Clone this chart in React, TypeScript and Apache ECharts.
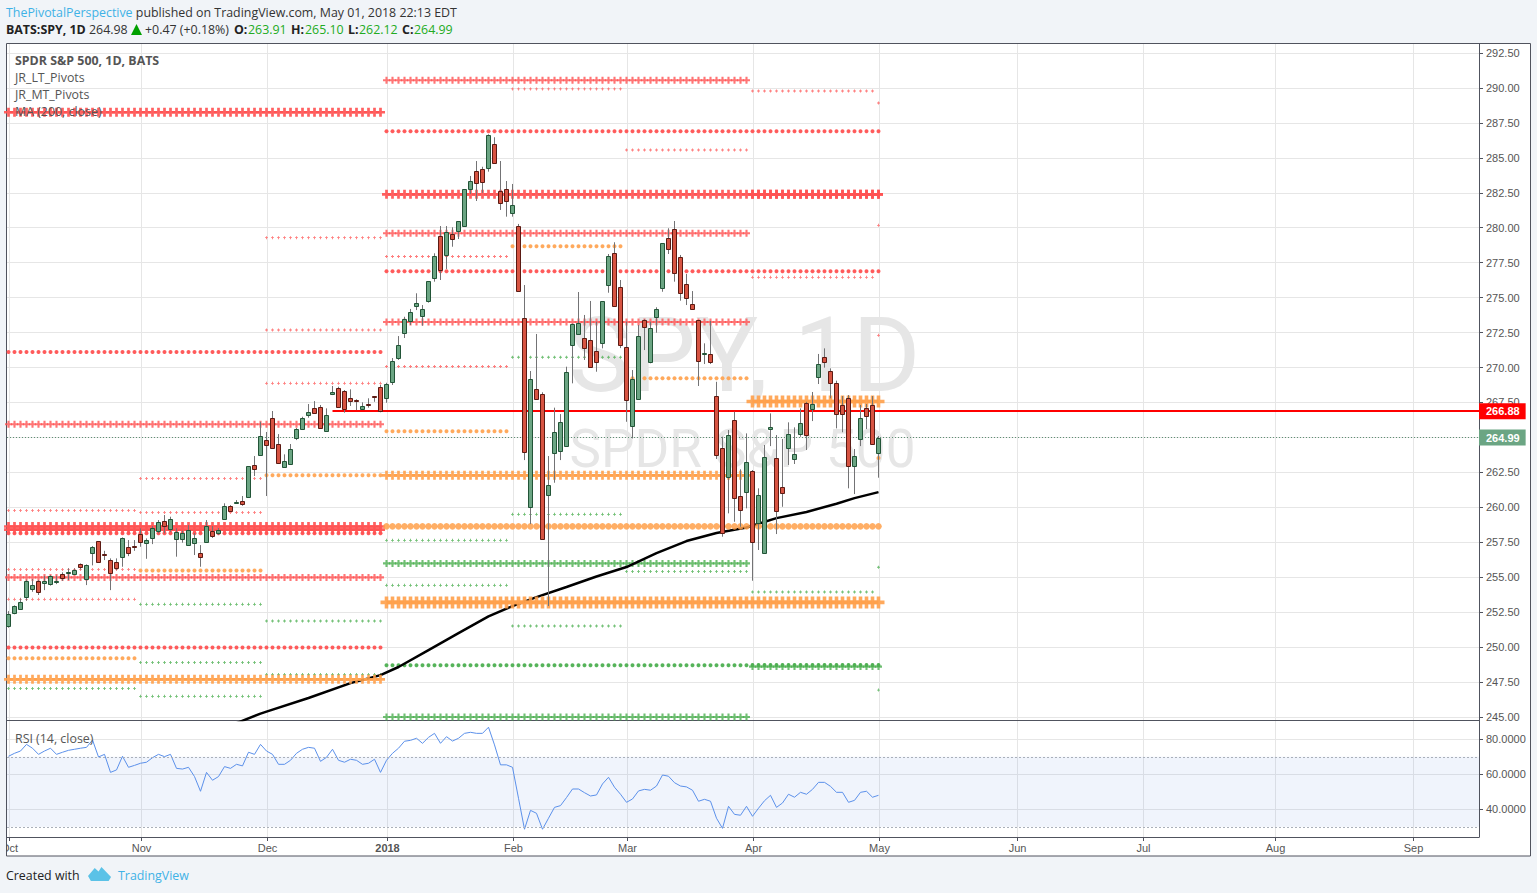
import React, { useEffect, useRef } from "react";
import * as echarts from "echarts";

// ---- candles (one entry per trading day, Oct 2017 - May 1 2018) ----
const opens = [
  251.53,252.46,252.75,253.61,254.18,254.71,254.61,254.54,254.67,255.2,
  255.28,255.25,255.92,254.89,256.75,257.56,256.66,256.21,256.07,256.47,
  257.14,257.23,258.07,257.47,257.82,258.33,259.0,258.47,257.75,257.75,
  257.33,257.47,256.71,257.54,258.29,258.19,259.18,260.07,260.36,260.43,
  260.76,263.05,263.76,264.79,266.37,264.51,262.91,263.12,264.98,265.62,
  266.62,267.08,267.15,265.48,268.13,268.51,268.3,267.8,267.65,267.05,
  267.41,267.96,268.58,267.84,268.96,270.68,272.49,273.35,274.42,273.71,
  274.78,276.42,279.39,278.07,279.53,279.79,280.14,282.75,284.04,284.18,
  284.25,285.97,282.6,282.75,281.07,280.1,273.52,259.99,268.48,268.08,
  260.86,263.86,264,264.36,271.59,272.37,272.09,271.95,271.16,271.77,
  275.92,278.17,275.74,271.45,265.84,267.77,273.38,270.42,273.58,275.71,
  279.24,279.89,277.88,275.95,274.52,273.38,270.99,270.94,267.94,264.22,
  262.19,266.22,260.79,261.11,262.57,258.9,256.75,265.58,263.5,261.43,
  264.26,263.48,265.26,267.44,267.05,269.34,270.73,269.73,268.87,267.3,
  267.8,262.93,264.86,267.08,267.3,263.91,
];
const closes = [
  252.35,252.92,253.21,254.71,254.43,253.96,254.71,255.07,254.71,254.96,
  255.35,255.49,255.75,255.85,257.14,256.11,256.62,255.32,255.68,257.78,
  256.75,257.19,257.54,257.64,258.5,258.93,258.68,259.14,258.21,258.14,
  258.35,257.78,256.47,258.64,257.93,258.35,260.07,259.76,260.4,260.26,
  262.93,262.76,265.08,264.48,264.22,263.19,263.29,264.15,265.58,266.37,
  266.79,266.77,265.69,266.58,268.23,267.2,267.05,267.62,267.6,267.22,
  267.37,267.92,266.91,268.8,270.46,271.61,273.45,273.95,274.59,274.16,
  276.17,277.95,277,279.67,279.17,280.46,282.75,283.32,283.22,283.29,
  286.61,284.65,281.79,281.93,281.6,275.49,263.98,269.16,267.73,257.71,
  261.57,265.37,266.08,269.66,273.09,273.16,271.42,270.06,270.42,274.74,
  277.98,274.42,271.63,267.7,269.16,272.23,272.93,272.8,274.16,278.9,
  278.5,276.74,275.31,274.99,274.21,270.49,271.02,270.42,263.72,258.14,
  265.15,260.64,259.83,263.22,257.5,260.86,263.58,265.72,259.76,261.04,
  265.22,263.79,266.01,265.19,267.37,270.23,270.42,268.91,266.65,266.65,
  262.97,263.65,266.37,266.55,264.51,264.99,
];
const lows = [
  251.39,252.35,252.71,253.32,253.96,253.73,254.08,254.4,254.51,254.74,
  254.8,255.23,255.56,254.44,255.85,256.11,256.23,254.08,255.51,255.75,
  256.51,256.89,257.18,256.32,257.37,258.14,258.14,258.25,256.47,257.47,
  257.33,256.59,255.75,257.54,257.81,258.02,259.18,259.69,260.29,260.11,
  260.76,262.24,263.76,260.81,264.22,263.1,262.86,263.05,264.81,265.53,
  266.41,266.75,265.69,265.48,268.03,267.2,266.77,267.25,266.96,266.96,
  267.13,267.55,266.8,267.48,268.75,270.54,272.11,273.04,274.11,272.99,
  274.64,276.14,276.26,277.05,278.64,279.19,280.14,282.41,281.91,282.5,
  284.01,284.56,281.27,280.79,280.79,275.49,263.38,258.8,267.73,257.71,
  252.94,261.76,263.38,264.36,268.87,272.37,270.54,270.06,269.7,271.37,
  275.35,274.42,271.39,266.12,264.93,267.77,271.25,270.3,272.49,275.42,
  278.12,276.14,274.78,274.47,274.21,268.68,270.25,270.25,263.46,257.9,
  259.57,258.97,258.61,259.93,254.75,256.95,256.71,264.38,258.09,260.04,
  263.03,263.1,265.05,264.1,266.17,268.82,269.99,267.8,265.65,265.37,
  261.36,260.95,264.38,265.6,264.51,262.12,
];
const highs = [
  252.58,252.99,253.49,254.83,254.87,254.8,255.11,255.16,255.11,255.35,
  255.64,255.64,255.99,255.92,257.23,257.56,256.89,256.35,256.35,257.85,
  257.66,257.66,258.5,257.78,258.66,259.09,259.45,259.33,258.5,258.33,
  258.73,258.16,257.3,259.09,258.66,258.52,260.29,260.16,260.52,260.81,
  262.93,263.67,266.12,265.39,266.89,265.24,263.79,264.53,265.67,266.48,
  267.39,267.6,267.32,267.08,268.68,268.63,268.39,268.44,267.73,267.51,
  267.8,267.96,268.75,268.91,270.68,272.25,273.63,274.19,275.31,274.47,
  276.17,278.17,280.12,280.12,280.03,280.46,282.75,283.7,284.77,284.36,
  286.68,286.47,284.77,283.34,283.13,280.27,275.9,269.75,272.4,268.23,
  263.67,267.13,266.67,270.06,273.15,275.4,273.76,274.76,273.28,274.74,
  278.12,278.96,276.26,273.28,269.82,273.04,273.45,273.28,274.31,278.9,
  279.96,280.48,278.05,276.69,275.47,273.38,271.73,273.33,268.98,265.05,
  265.53,266.84,262.72,265.29,262.67,261.36,264.46,266.72,265.17,264.89,
  266.08,265.72,267.08,267.55,268.25,270.97,271.37,269.94,269.06,267.96,
  268.03,264.17,267.32,267.39,267.96,265.1,
];

// ---- RSI (14, close), one per candle ----
const rsiValues = [
  70.3,72,73.3,77.1,74.9,71.4,73.3,74.9,71.4,72.6,
  73.7,74.3,74.9,75.4,79.6,69.9,71.4,61.1,62.5,70.3,
  64,65.1,66.3,66.9,69.5,71.4,70.1,71.4,63.4,63,
  64,58.7,50.3,61.1,56.6,58.7,64.4,63.4,65.7,64.8,
  72.6,71.4,77.1,73.3,71.4,65.7,65.7,68,72,74.3,
  75.4,74.9,67.4,69.7,74.3,68,66.9,68.6,68,65.7,
  66.3,68.6,61.1,68,72,74.9,78.9,79.4,80.6,77.7,
  81.1,83.4,77.7,81.5,79,80.6,83.4,84,83.4,83.4,
  86.9,76.8,65.4,65.4,64,46.3,28.6,39.4,37.7,28.6,
  34.9,41.1,42.1,46.7,51.6,51.6,49.5,47.6,48.2,54.5,
  58.3,52.6,48.6,44,45.9,50.5,51.4,50.9,53.3,59.6,
  58.9,55.2,53.3,52.8,50.9,44.6,45.7,44.6,34.9,29.1,
  41.7,37.1,36.6,41.7,36,40.6,44.9,48,41.1,43.6,
  48.6,46.9,49.7,48.6,51.4,55.4,55.4,53.1,49.7,49.7,
  44,45.1,49.7,50.3,46.9,48,
];

// ---- MA (200, close): [bar, value] ----
const ma200 = [
  [38,244.57],[42,245.25],[43,245.39],[50,246.36],[57,247.43],[62,248],[65,248.58],
  [70,249.79],[75,251],[80,252.2],[84,252.94],[88,253.58],[93,254.3],[98,255.05],
  [103,255.73],[108,256.73],[113,257.59],[118,258.16],[123,258.56],[128,259.23],
  [133,259.67],[138,260.26],[141,260.66],[145,261.09],
];

// ---- pivots: [first bar, last bar, level] ----
const redHeavy = [[0,62,288.26],[63,145,282.39],[124,145,282.39],[0,62,258.63],[0,62,258.4]];
const redCross = [[63,123,290.55],[63,123,279.6],[63,123,273.26],[0,62,265.94],[0,62,254.99]];
const redDots = [[0,62,271.11],[63,145,286.9],[63,145,276.88],[0,62,249.98],[0,62,258.14]];
const redTiny = [
  [0,21,259.78],[0,21,255.56],[0,21,253.42],
  [22,42,262.07],[22,42,259.64],
  [43,62,279.29],[43,62,272.68],[43,62,268.87],
  [63,83,277.94],[63,83,270.07],
  [84,102,289.93],[103,123,285.56],
  [124,144,289.78],[124,144,276.45],
  [145,145,288.92],[145,145,280.17],[145,145,272.3],
];
const orangeHeavy = [[0,62,247.7],[63,123,262.29]];
const orangeHuge = [[63,145,253.2],[124,145,267.57]];
const orangeBig = [[63,145,258.64]];
const orangeDots = [
  [0,21,249.2],[22,42,255.49],[43,62,262.29],[63,83,265.44],
  [84,102,278.67],[103,123,269.23],[145,145,263.53],
];
const greenCross = [[63,123,255.99],[63,123,245],[124,145,248.61]];
const greenDots = [[63,145,248.7]];
const greenTiny = [
  [0,21,247.05],
  [22,42,253.06],[22,42,248.91],[22,42,246.48],
  [43,62,251.87],[43,62,248.05],
  [63,83,257.64],[63,83,254.42],
  [84,102,270.73],[84,102,259.5],[84,102,251.51],
  [103,123,255.42],
  [124,144,253.94],
  [145,145,255.71],[145,145,246.93],
];

// ---- axes ----
const priceTicks = [
  245,247.5,250,252.5,255,257.5,260,262.5,265,267.5,270,272.5,275,277.5,280,
  282.5,285,287.5,290,292.5,
];
const rsiTicks = [40, 60, 80];
const monthBars = [0, 22, 43, 63, 84, 103, 124, 145, 168, 189, 211, 234];
const monthNames = ["Oct","Nov","Dec","2018","Feb","Mar","Apr","May","Jun","Jul","Aug","Sep"];
const lastClose = 264.99;
const alertLevel = 266.88;
const alertFromBar = 54;

// x axis runs in twelfths of a bar so that its limits are whole numbers
const BAR = 12;
const X_MIN = -3;
const X_MAX = 2941;
const TICK_OFFSET = 2;
const axisColor = "#50535e";
const textColor = "#555";
const gridColor = "#e6e6e6";
const pageBg = "#f1f4f8";
const red = "#ff5252";
const orange = "#ffa04a";
const green = "#4caf50";
const UI_FONT = "12.4px 'Open Sans'";
const UI_BOLD = "bold 12.4px 'Open Sans'";

const PLUS = "path://M3.5 0H6.5V3.5H10V6.5H6.5V10H3.5V6.5H0V3.5H3.5Z";

echarts.graphic.registerShape(
  "tvLogo",
  echarts.graphic.extendPath("M0 9L7 1L11 4.5L14 0L24 10L21.5 14L3 14Z", {})
);

function pivotSeries(name: string, segs: number[][], color: string, symbol: string, size: number, opacity: number, z: number) {
  const pts: number[][] = [];
  segs.forEach(([a, b, level]) => {
    for (let k = a; k <= b; k++) pts.push([k * BAR, level]);
  });
  return {
    name, type: "scatter", xAxisIndex: 0, yAxisIndex: 0, data: pts, symbol, symbolSize: size, clip: true,
    itemStyle: { color, opacity }, silent: true, z, animation: false,
  };
}

function headerText(x: number, text: string, fill: string, font: string) {
  return { type: "text", z: 100, x, y: 29, style: { text, fill, font, verticalAlign: "middle" } };
}

export default function App() {
  const ref = useRef<HTMLDivElement>(null);
  useEffect(() => {
    const chart = echarts.init(ref.current!, null, { renderer: "svg" });
    const candleRows = opens.map((o, i) => [i * BAR, o, closes[i], lows[i], highs[i]]);
    const xTicks = monthBars.map((b) => b * BAR + TICK_OFFSET);
    const labelFor = (v: number) => {
      const k = monthBars.indexOf(Math.round((v - TICK_OFFSET) / BAR));
      return k < 0 ? "" : k === 3 ? `{b|${monthNames[k]}}` : monthNames[k];
    };
    const option: any = {
      animation: false,
      backgroundColor: pageBg,
      textStyle: { fontFamily: "Liberation Sans" },
      grid: [
        { left: 7, top: 44, width: 1472, height: 676, outerBoundsMode: "none", containLabel: false },
        { left: 7, top: 720, width: 1472, height: 117, outerBoundsMode: "none", containLabel: false },
      ],
      xAxis: [
        {
          type: "value", gridIndex: 0, min: X_MIN, max: X_MAX, position: "bottom",
          axisLine: { show: true, onZero: false, lineStyle: { color: axisColor } },
          axisTick: { show: false, customValues: xTicks },
          axisLabel: { show: false, customValues: xTicks },
          splitLine: { show: true, lineStyle: { color: gridColor } },
        },
        {
          type: "value", gridIndex: 1, min: X_MIN, max: X_MAX, position: "bottom",
          axisLine: { show: true, onZero: false, lineStyle: { color: axisColor } },
          axisTick: { show: true, length: 4, customValues: xTicks, lineStyle: { color: axisColor } },
          axisLabel: {
            show: true, customValues: xTicks, color: textColor, fontSize: 11, margin: 5,
            fontFamily: "Liberation Sans", formatter: labelFor,
            rich: { b: { fontWeight: "bold", fontSize: 11, color: textColor, fontFamily: "Liberation Sans" } },
          },
          splitLine: { show: true, lineStyle: { color: gridColor } },
        },
      ],
      yAxis: [
        {
          type: "value", gridIndex: 0, position: "right", min: 244.79, max: 293.14, scale: true,
          axisLine: { show: true, onZero: false, lineStyle: { color: axisColor } },
          axisTick: { show: true, length: 4, customValues: priceTicks, lineStyle: { color: axisColor } },
          axisLabel: {
            show: true, customValues: priceTicks, color: textColor, fontSize: 11, margin: 7,
            fontFamily: "Liberation Sans", formatter: (v: number) => v.toFixed(2),
          },
          splitLine: { show: true, lineStyle: { color: gridColor } },
        },
        {
          type: "value", gridIndex: 1, position: "right", min: 24.17, max: 91.03, scale: true,
          axisLine: { show: true, onZero: false, lineStyle: { color: axisColor } },
          axisTick: { show: true, length: 4, customValues: rsiTicks, lineStyle: { color: axisColor } },
          axisLabel: {
            show: true, customValues: rsiTicks, color: textColor, fontSize: 11, margin: 7,
            fontFamily: "Liberation Sans", formatter: (v: number) => v.toFixed(4),
          },
          splitLine: { show: true, lineStyle: { color: gridColor } },
        },
      ],
      series: [
        {
          name: "Last close line", type: "line", xAxisIndex: 0, yAxisIndex: 0, data: [], z: 1, silent: true,
          markLine: {
            symbol: "none", silent: true, animation: false,
            lineStyle: { color: "#5f8f74", type: [1, 2], width: 1 },
            label: {
              show: true, position: "end", distance: 0, formatter: lastClose.toFixed(2), color: "#fff",
              fontWeight: "bold", fontSize: 11, fontFamily: "Liberation Sans",
              backgroundColor: "#6ba583", padding: [3, 6, 2, 7],
            },
            data: [[{ coord: [X_MIN, lastClose] }, { coord: [X_MAX, lastClose] }]],
          },
        },
        pivotSeries("JR_LT red heavy", redHeavy, red, PLUS, 9, 0.92, 2),
        pivotSeries("JR_LT red cross", redCross, red, PLUS, 7, 0.8, 2),
        pivotSeries("JR_LT red dots", redDots, red, "circle", 4, 0.95, 2),
        pivotSeries("JR_MT red", redTiny, red, PLUS, 3, 0.75, 2),
        pivotSeries("JR_LT green cross", greenCross, green, PLUS, 7, 0.8, 2),
        pivotSeries("JR_LT green dots", greenDots, green, "circle", 4, 0.95, 2),
        pivotSeries("JR_MT green", greenTiny, green, PLUS, 3, 0.8, 2),
        {
          name: "MA (200, close)", type: "line", xAxisIndex: 0, yAxisIndex: 0,
          data: ma200.map(([b, v]) => [b * BAR, v]), showSymbol: false,
          lineStyle: { color: "#000", width: 2.5 }, z: 3, silent: true, smooth: false,
        },
        pivotSeries("JR_LT orange heavy", orangeHeavy, orange, PLUS, 9, 0.9, 4),
        pivotSeries("JR_LT orange huge", orangeHuge, orange, PLUS, 12, 0.9, 4),
        pivotSeries("JR_LT orange big", orangeBig, orange, "circle", 6.5, 0.85, 4),
        pivotSeries("JR_MT orange", orangeDots, orange, "circle", 4, 0.9, 4),
        {
          name: "SPY wicks", type: "candlestick", xAxisIndex: 0, yAxisIndex: 0, data: candleRows,
          encode: { x: 0, y: [1, 2, 3, 4] }, barWidth: 1, z: 5, silent: true,
          itemStyle: { color: "#737375", color0: "#737375", borderColor: "#737375", borderColor0: "#737375", borderWidth: 1 },
        },
        {
          name: "SPY bodies", type: "custom", xAxisIndex: 0, yAxisIndex: 0, data: candleRows, z: 6, silent: true,
          encode: { x: 0, y: [1, 2] },
          renderItem: (_p: any, api: any) => {
            const x = api.coord([api.value(0), api.value(1)])[0];
            const yo = api.coord([api.value(0), api.value(1)])[1];
            const yc = api.coord([api.value(0), api.value(2)])[1];
            const up = api.value(2) >= api.value(1);
            const top = Math.round(Math.min(yo, yc)) + 0.5;
            const bot = Math.max(Math.round(Math.max(yo, yc)) + 0.5, top + 1);
            return {
              type: "rect",
              shape: { x: x - 2, y: top, width: 4, height: bot - top },
              style: { fill: up ? "#6ba583" : "#d75442", stroke: up ? "#225437" : "#5b1a13", lineWidth: 1 },
            };
          },
        },
        {
          name: "Alert line", type: "line", xAxisIndex: 0, yAxisIndex: 0, data: [], z: 20, silent: true,
          markLine: {
            symbol: "none", silent: true, animation: false,
            lineStyle: { color: "#ff0000", type: "solid", width: 2 },
            label: {
              show: true, position: "end", distance: 0, formatter: alertLevel.toFixed(2), color: "#fff",
              fontWeight: "bold", fontSize: 11, fontFamily: "Liberation Sans",
              backgroundColor: "#ff0000", padding: [3, 6, 2, 7],
            },
            data: [[{ coord: [alertFromBar * BAR, alertLevel] }, { coord: [X_MAX, alertLevel] }]],
          },
        },
        {
          name: "RSI (14, close)", type: "line", xAxisIndex: 1, yAxisIndex: 1,
          data: rsiValues.map((v, i) => [i * BAR, v]), showSymbol: false, z: 3, silent: true,
          lineStyle: { color: "#5b90ea", width: 1 },
          markArea: {
            silent: true, itemStyle: { color: "rgba(60,110,220,0.08)" },
            data: [[{ coord: [X_MIN, 70] }, { coord: [X_MAX, 30] }]],
          },
          markLine: {
            symbol: "none", silent: true, label: { show: false },
            lineStyle: { color: "#aab0ba", type: [2, 2], width: 1 },
            data: [
              [{ coord: [X_MIN, 70] }, { coord: [X_MAX, 70] }],
              [{ coord: [X_MIN, 30] }, { coord: [X_MAX, 30] }],
            ],
          },
        },
      ],
      graphic: [
        { type: "rect", z: -10, shape: { x: 6.5, y: 43.5, width: 1524, height: 812.5 }, style: { fill: "#fff", stroke: axisColor, lineWidth: 1 } },
        { type: "text", z: -5, x: 744.5, y: 355, style: { text: "SPY, 1D", font: "104px Roboto", fill: "#e6e6e6", align: "center", verticalAlign: "middle" } },
        { type: "text", z: -5, x: 742.5, y: 449, style: { text: "SPDR S&P 500", font: "53px Roboto", fill: "#e6e6e6", align: "center", verticalAlign: "middle" } },

        // axis overflow, clipped the way the panes clip it
        { type: "rect", z: 50, shape: { x: 1480, y: 721, width: 50, height: 9 }, style: { fill: "#fff" } },
        { type: "rect", z: 50, shape: { x: 0, y: 839, width: 6, height: 16 }, style: { fill: pageBg } },

        // header
        {
          type: "text", z: 100, x: 6, y: 12,
          style: {
            text: "{a|ThePivotalPerspective}{t| published on TradingView.com, May 01, 2018 22:13 EDT}",
            verticalAlign: "middle", font: UI_FONT,
            rich: {
              a: { fill: "#3fb2e6", font: UI_FONT },
              t: { fill: "#333", font: UI_FONT },
            },
          },
        },
        headerText(6, "BATS:SPY, 1D", "#222", UI_BOLD),
        headerText(89, "264.98", "#333", UI_FONT),
        { type: "polygon", z: 100, shape: { points: [[131, 35], [142, 35], [136.5, 24]] }, style: { fill: "#00a000" } },
        headerText(145, "+0.47 (+0.18%)", "#333", UI_FONT),
        headerText(234, "O:", "#222", UI_BOLD),
        headerText(248, "263.91", "#22ab22", UI_FONT),
        headerText(291, "H:", "#222", UI_BOLD),
        headerText(305, "265.10", "#22ab22", UI_FONT),
        headerText(348, "L:", "#222", UI_BOLD),
        headerText(359, "262.12", "#22ab22", UI_FONT),
        headerText(402, "C:", "#222", UI_BOLD),
        headerText(414, "264.99", "#22ab22", UI_FONT),

        // pane legends
        { type: "text", z: 100, x: 15, y: 60.5, style: { text: "SPDR S&P 500, 1D, BATS", font: UI_BOLD, fill: "#555", verticalAlign: "middle" } },
        { type: "text", z: 100, x: 15, y: 77.5, style: { text: "JR_LT_Pivots", font: UI_FONT, fill: "#555", verticalAlign: "middle" } },
        { type: "text", z: 100, x: 15, y: 94.5, style: { text: "JR_MT_Pivots", font: UI_FONT, fill: "#555", verticalAlign: "middle" } },
        { type: "text", z: 100, x: 15, y: 111.5, style: { text: "MA (200, close)", font: UI_FONT, fill: "#555", verticalAlign: "middle" } },
        { type: "text", z: 100, x: 15, y: 738, style: { text: "RSI (14, close)", font: UI_FONT, fill: "#555", verticalAlign: "middle" } },

        // footer
        { type: "text", z: 100, x: 6, y: 875.5, style: { text: "Created with", font: UI_FONT, fill: "#222", verticalAlign: "middle" } },
        { type: "tvLogo", z: 100, x: 88, y: 867, scaleX: 0.96, scaleY: 1, style: { fill: "#5bc2e7" } },
        { type: "text", z: 100, x: 118, y: 875.5, style: { text: "TradingView", font: UI_FONT, fill: "#3fb2e6", verticalAlign: "middle" } },
      ],
    };
    chart.setOption(option);
    return () => chart.dispose();
  }, []);
  return <div ref={ref} style={{ position: "absolute", left: 0, top: 0, width: 1537, height: 893 }} />;
}
